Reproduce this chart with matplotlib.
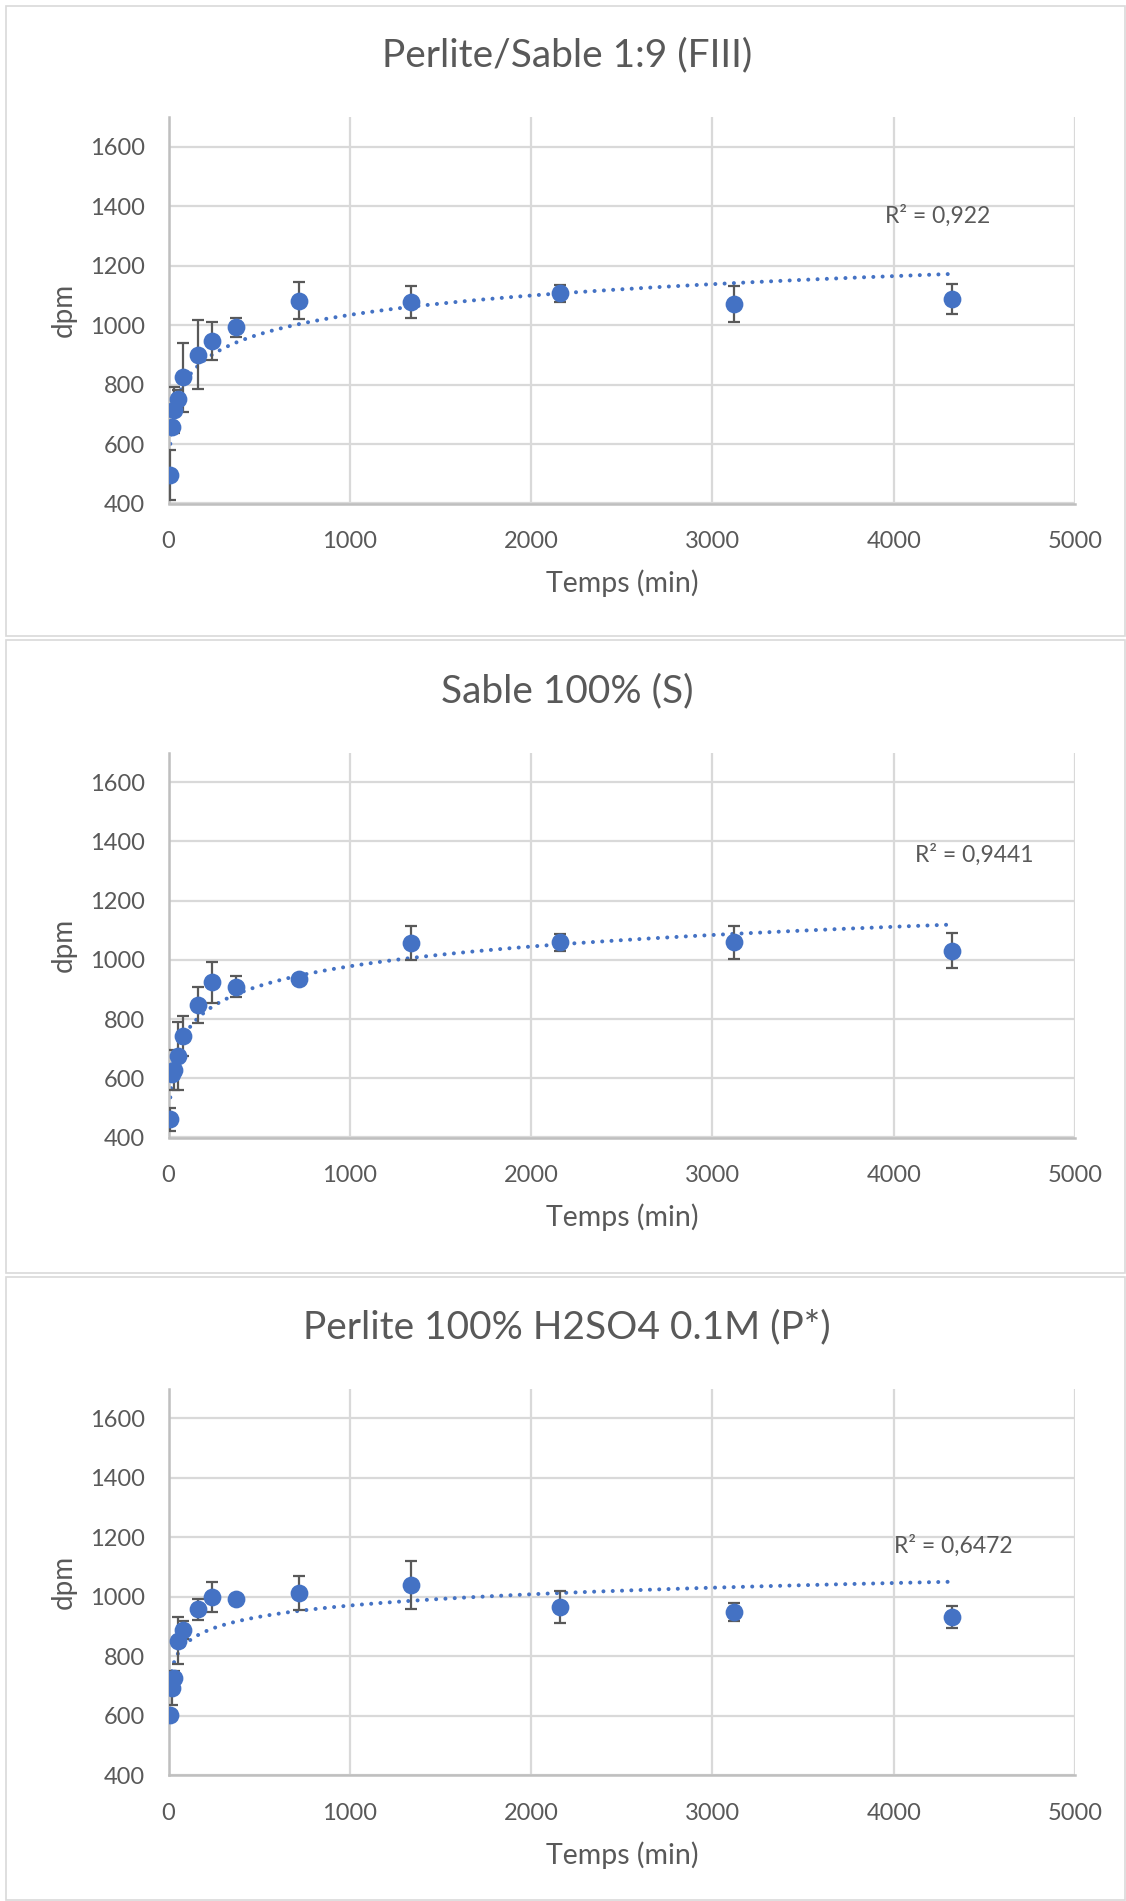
import numpy as np
import matplotlib
matplotlib.use("Agg")
import matplotlib.pyplot as plt
from matplotlib.patches import Rectangle

plt.rcParams["font.family"] = ["Lato", "DejaVu Sans"]

# ── data ────────────────────────────────────────────────────────────────────
temps = [10, 20, 30, 50, 80, 160, 240, 370, 720, 1340, 2160, 3120, 4320]

fiii_dpm = [496, 658, 714, 750, 824, 900, 946, 992, 1082, 1077, 1107, 1071, 1087]
fiii_err = [85, 15, 76, 30, 115, 116, 65, 33, 62, 55, 28, 60, 51]

s_dpm = [461, 614, 628, 675, 743, 848, 924, 910, 936, 1056, 1059, 1059, 1031]
s_err = [39, 20, 68, 116, 67, 62, 70, 37, 12, 58, 28, 56, 59]

p_dpm = [602, 692, 725, 852, 888, 958, 998, 991, 1011, 1039, 966, 947, 933]
p_err = [6, 55, 25, 80, 30, 35, 51, 12, 57, 80, 53, 30, 37]

titles = ["Perlite/Sable 1:9 (FIII)", "Sable 100% (S)", "Perlite 100% H2SO4 0.1M (P*)"]
r2_labels = ["R² = 0,922", "R² = 0,9441", "R² = 0,6472"]

# ── style ───────────────────────────────────────────────────────────────────
BLUE = "#4472C4"
TXT = "#595959"
GRID = "#d9d9d9"
AXIS = "#bfbfbf"

W, H = 1126, 1901
fig = plt.figure(figsize=(W / 100, H / 100), dpi=100)

# chart-area frames (pixel boxes: x0, y0, x1, y1 from top-left)
frames = [(6, 6, 1125, 636), (6, 640, 1125, 1273), (6, 1277, 1125, 1900)]
# plot-area boxes: left, top, right, bottom
plot_boxes = [(168.5, 116.8, 1075, 503.5),
              (168.5, 752.7, 1075, 1137.5),
              (168.5, 1388.6, 1075, 1775)]
r2_pos = [(3950, 1366), (4115, 1354), (4002, 1170)]
TITLE_X = 567  # chart titles sit on the chart-area centre, not the plot centre

series = [(fiii_dpm, fiii_err), (s_dpm, s_err), (p_dpm, p_err)]

for (x0, y0, x1, y1) in frames:
    fig.patches.append(Rectangle((x0 / W, 1 - y1 / H), (x1 - x0) / W, (y1 - y0) / H,
                                 transform=fig.transFigure, fill=False,
                                 edgecolor=GRID, linewidth=1.2))

for i, (vals, errs) in enumerate(series):
    l, t, r, b = plot_boxes[i]
    ax = fig.add_axes([l / W, 1 - b / H, (r - l) / W, (b - t) / H])

    x = np.array(temps, dtype=float)
    y = np.array(vals, dtype=float)

    # logarithmic trendline, fitted on ln(t)
    a, c = np.polyfit(np.log(x), y, 1)
    xf = np.linspace(x.min(), x.max(), 600)
    ax.plot(xf, a * np.log(xf) + c, color=BLUE, linewidth=2.9,
            linestyle=(0, (0.01, 2.3)), dash_capstyle="round", zorder=2)

    ax.errorbar(x, y, yerr=errs, fmt="none", ecolor="#595959", elinewidth=1.6,
                capsize=4.3, capthick=1.6, zorder=3)
    ax.plot(x, y, "o", color=BLUE, markersize=12.8, markeredgewidth=0, zorder=4)

    ax.set_xlim(0, 5000)
    ax.set_ylim(400, 1700)
    ax.set_xticks(np.arange(0, 5001, 1000))
    ax.set_yticks(np.arange(400, 1601, 200))
    ax.grid(True, color=GRID, linewidth=1.6)
    ax.set_axisbelow(True)
    for side in ("top", "right"):
        ax.spines[side].set_visible(False)
    for side in ("left", "bottom"):
        ax.spines[side].set_color(AXIS)
        ax.spines[side].set_linewidth(1.8)
    ax.tick_params(length=0, labelsize=17, labelcolor=TXT)
    ax.tick_params(axis="y", pad=17)
    ax.tick_params(axis="x", pad=20)

    ax.set_xlabel("Temps (min)", fontsize=20.5, color=TXT)
    ax.set_ylabel("dpm", fontsize=20, color=TXT)
    ax.xaxis.label.set_va("center")
    ax.yaxis.label.set_va("center")
    ax.xaxis.set_label_coords(0.5, -(80 / (b - t)))
    ax.yaxis.set_label_coords(-(105 / (r - l)), 0.5)

    ax.text((TITLE_X - l) / (r - l), 1 + 61.5 / (b - t), titles[i],
            transform=ax.transAxes, ha="center", va="center",
            fontsize=28, color=TXT)
    ax.text(r2_pos[i][0], r2_pos[i][1], r2_labels[i], ha="left", va="center",
            fontsize=16.5, color=TXT)

fig.savefig("out.png", dpi=100, facecolor="white")
